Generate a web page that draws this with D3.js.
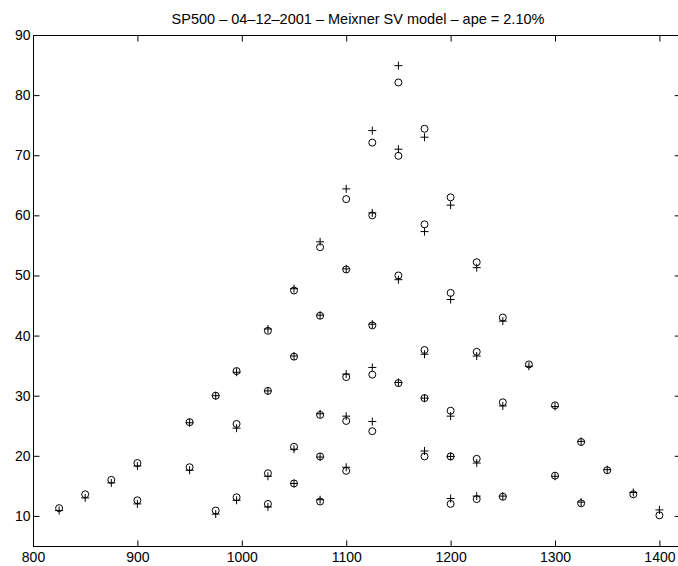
<!DOCTYPE html>
<html>
<head>
  <meta charset="utf-8">
  <title>SP500 Meixner SV model</title>
  <script src="https://d3js.org/d3.v7.min.js"></script>
  <style>
    body { margin: 0; background: #fff; }
    svg { display: block; font-family: 'Liberation Sans', Arial, sans-serif; }
  </style>
</head>
<body>
<div id="my_dataviz"></div>
<script>

  // strikes, market prices (circles) and model prices (plus signs)
  var strikes = [825, 850, 875, 900, 900, 950, 950, 975, 975, 995, 995, 995,
    1025, 1025, 1025, 1025, 1050, 1050, 1050, 1050,
    1075, 1075, 1075, 1075, 1075, 1100, 1100, 1100, 1100, 1100,
    1125, 1125, 1125, 1125, 1125, 1150, 1150, 1150, 1150,
    1175, 1175, 1175, 1175, 1175, 1200, 1200, 1200, 1200, 1200,
    1225, 1225, 1225, 1225, 1250, 1250, 1250, 1275, 1300, 1300,
    1325, 1325, 1350, 1375, 1400];

  var marketPrices = [11.3, 13.6, 16.0, 18.8, 12.6, 25.6, 18.1, 30.0, 10.9, 34.1, 25.3, 13.1,
    40.8, 30.8, 17.1, 12.0, 47.5, 36.5, 21.5, 15.4,
    54.7, 43.3, 26.8, 19.9, 12.4, 62.7, 51.0, 33.1, 25.8, 17.5,
    72.1, 60.0, 41.7, 33.5, 24.1, 82.1, 69.9, 50.0, 32.1,
    74.4, 58.5, 37.6, 29.6, 19.9, 63.0, 47.1, 27.5, 19.9, 12.0,
    52.2, 37.3, 19.5, 12.8, 43.0, 28.9, 13.2, 35.2, 28.4, 16.7,
    22.3, 12.1, 17.6, 13.6, 10.1];

  var modelPrices = [10.9, 13.0, 15.5, 18.3, 12.0, 25.5, 17.6, 30.0, 10.3, 33.9, 24.6, 12.6,
    41.1, 30.8, 16.6, 11.5, 47.8, 36.6, 21.1, 15.4,
    55.6, 43.4, 27.0, 19.8, 12.7, 64.4, 51.1, 33.6, 26.6, 18.1,
    74.1, 60.4, 41.9, 34.7, 25.7, 84.9, 71.0, 49.3, 32.2,
    73.0, 57.3, 36.9, 29.6, 20.8, 61.7, 46.0, 26.6, 19.9, 12.9,
    51.3, 36.6, 18.8, 13.3, 42.4, 28.3, 13.3, 34.9, 28.2, 16.6,
    22.4, 12.3, 17.7, 13.9, 11.0];

  var xTicks = [800, 900, 1000, 1100, 1200, 1300, 1400];
  var yTicks = [10, 20, 30, 40, 50, 60, 70, 80, 90];
  var title = "SP500 \u2013 04\u201312\u20132001 \u2013 Meixner SV model \u2013 ape = 2.10%";

  var W = 678, H = 566;
  var plotLeft = 33, plotTop = 35, plotRight = 680.3, plotBottom = 546;

  var svg = d3.select("#my_dataviz")
    .append("svg")
    .attr("width", W)
    .attr("height", H);

  var x = d3.scaleLinear().domain([800, 1420]).range([plotLeft, plotRight]);
  var y = d3.scaleLinear().domain([5, 90]).range([plotBottom, plotTop]);

  // box
  svg.append("rect")
    .attr("x", plotLeft + 0.5)
    .attr("y", plotTop + 0.5)
    .attr("width", plotRight - plotLeft)
    .attr("height", plotBottom - plotTop)
    .attr("fill", "none")
    .attr("stroke", "#000")
    .attr("stroke-width", 1);

  // bottom axis, ticks inside
  svg.append("g")
    .attr("transform", "translate(0," + (plotBottom + 0.5) + ")")
    .call(d3.axisBottom(x).tickValues(xTicks).tickSizeInner(-6).tickSizeOuter(0).tickPadding(6).tickFormat(d3.format("d")));
  // left axis, ticks inside
  svg.append("g")
    .attr("transform", "translate(" + (plotLeft + 0.5) + ",0)")
    .call(d3.axisLeft(y).tickValues(yTicks).tickSizeInner(-6).tickSizeOuter(0).tickPadding(3));
  // mirrored ticks on top and right
  svg.append("g")
    .attr("transform", "translate(0," + (plotTop + 0.5) + ")")
    .call(d3.axisTop(x).tickValues(xTicks).tickSizeInner(-6).tickSizeOuter(0).tickFormat(""));
  svg.append("g")
    .attr("transform", "translate(" + (plotRight + 0.5) + ",0)")
    .call(d3.axisRight(y).tickValues(yTicks).tickSizeInner(-6).tickSizeOuter(0).tickFormat(""));

  svg.selectAll(".domain").remove();
  svg.selectAll(".tick line").attr("stroke", "#000");
  svg.selectAll(".tick text")
    .attr("fill", "#000")
    .style("font-size", "14px")
    .style("font-family", "'Liberation Sans', Arial, sans-serif");

  // title
  svg.append("text")
    .attr("x", 358)
    .attr("y", 24)
    .attr("text-anchor", "middle")
    .style("font-size", "14.5px")
    .text(title);

  var points = strikes.map(function (k, i) {
    return { k: k, market: marketPrices[i], model: modelPrices[i] };
  });

  // market prices as circles
  svg.selectAll("circle.market")
    .data(points)
    .enter()
    .append("circle")
    .attr("class", "market")
    .attr("cx", function (d) { return x(d.k); })
    .attr("cy", function (d) { return y(d.market); })
    .attr("r", 3.5)
    .attr("fill", "none")
    .attr("stroke", "#000")
    .attr("stroke-width", 1);

  // model prices as plus signs
  svg.selectAll("path.model")
    .data(points)
    .enter()
    .append("path")
    .attr("class", "model")
    .attr("d", function (d) {
      var cx = x(d.k), cy = y(d.model), s = 4;
      return "M" + (cx - s) + "," + cy + "H" + (cx + s) + "M" + cx + "," + (cy - s) + "V" + (cy + s);
    })
    .attr("fill", "none")
    .attr("stroke", "#000")
    .attr("stroke-width", 1);

</script>
</body>
</html>
